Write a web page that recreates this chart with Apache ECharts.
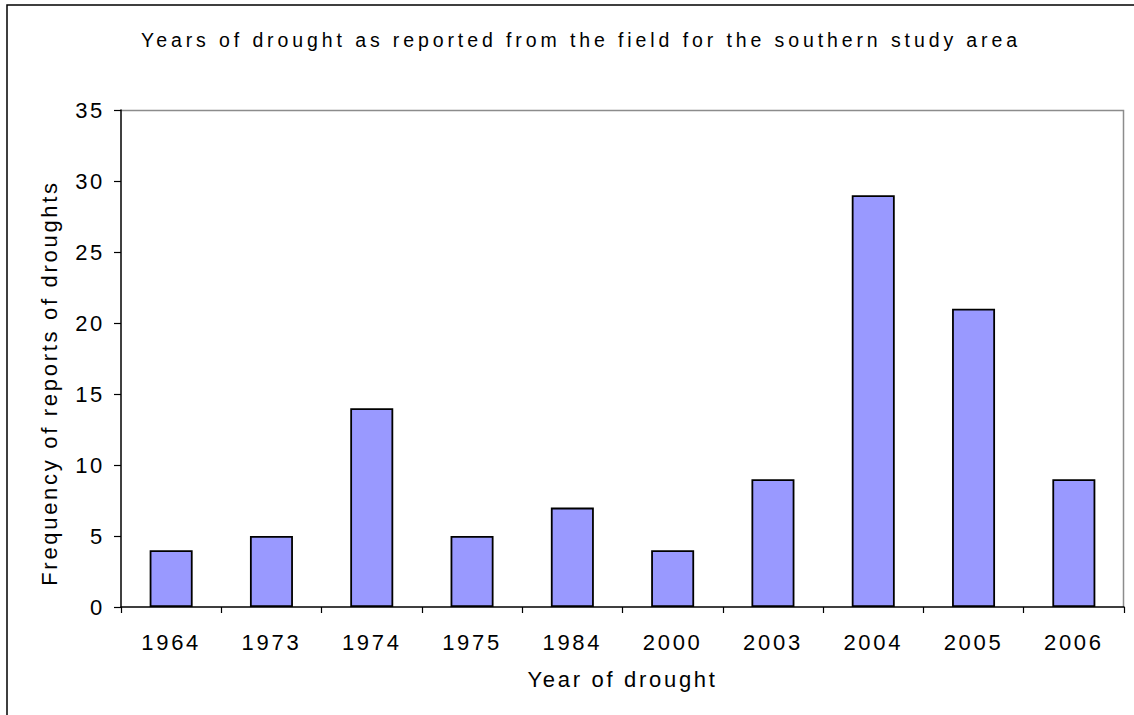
<!DOCTYPE html>
<html>
<head>
<meta charset="utf-8">
<script src="https://cdn.jsdelivr.net/npm/echarts@6/dist/echarts.min.js"></script>
<style>
  html, body { margin: 0; padding: 0; background: #fff; }
  #chart { width: 1134px; height: 715px; }
  /* widely tracked lettering throughout the chart */
  #chart svg text { letter-spacing: 2.7px; }
  #chart svg text[style*="19.5px"] { letter-spacing: 3.9px; }
</style>
</head>
<body>
<div id="chart"></div>
<script>
// Drought years and how many times each was reported
const years = ['1964', '1973', '1974', '1975', '1984', '2000', '2003', '2004', '2005', '2006'];
const reports = [4, 5, 14, 5, 7, 4, 9, 29, 21, 9];
const titleText = 'Years of drought as reported from the field for the southern study area';
const xName = 'Year of drought';
const yName = 'Frequency of reports of droughts';

const FONT = '"Liberation Sans", Arial, sans-serif';
const chart = echarts.init(document.getElementById('chart'), null, { renderer: 'svg' });

chart.setOption({
  animation: false,
  backgroundColor: '#fff',
  graphic: [
    {
      type: 'rect',
      shape: { x: 7, y: 5, width: 1140, height: 720 },
      style: { fill: 'none', stroke: '#000', lineWidth: 1.5 },
      silent: true,
      z: -1
    },
    {
      // top and right edges of the plot frame
      type: 'polyline',
      shape: { points: [[121, 110.5], [1123.5, 110.5], [1123.5, 607]] },
      style: { stroke: '#8c8c8c', lineWidth: 1.5, fill: 'none' },
      silent: true
    },
    {
      type: 'text',
      id: 'chartTitle',
      x: 581,
      y: 30,
      style: {
        text: titleText,
        fontFamily: FONT,
        fontSize: 19.5,
        fill: '#000',
        align: 'center',
        verticalAlign: 'top'
      },
      silent: true
    },
    {
      type: 'text',
      x: 49,
      y: 383,
      rotation: Math.PI / 2,
      style: {
        text: yName,
        fontFamily: FONT,
        fontSize: 22,
        fill: '#000',
        align: 'center',
        verticalAlign: 'middle'
      },
      silent: true
    }
  ],
  grid: { left: 121, top: 110, right: 10, bottom: 108 },
  xAxis: {
    type: 'category',
    data: years,
    name: xName,
    nameLocation: 'middle',
    nameGap: 61,
    nameTextStyle: { fontFamily: FONT, fontSize: 22, color: '#000' },
    axisLine: { lineStyle: { color: '#000', width: 1.5 } },
    axisTick: { show: true, length: 6, inside: false, lineStyle: { color: '#000', width: 1.2 } },
    axisLabel: { fontFamily: FONT, fontSize: 22, color: '#000', margin: 24 },
    splitLine: { show: false }
  },
  yAxis: {
    type: 'value',
    min: 0,
    max: 35,
    interval: 5,
    axisLine: { show: true, lineStyle: { color: '#000', width: 1.5 } },
    axisTick: { show: true, length: 7, lineStyle: { color: '#000', width: 1.2 } },
    axisLabel: { fontFamily: FONT, fontSize: 22, color: '#000', margin: 16 },
    splitLine: { show: false }
  },
  series: [{
    type: 'bar',
    data: reports,
    barWidth: 43,
    itemStyle: { color: '#9999FF', borderColor: '#000', borderWidth: 1.8 }
  }]
});
</script>
</body>
</html>
